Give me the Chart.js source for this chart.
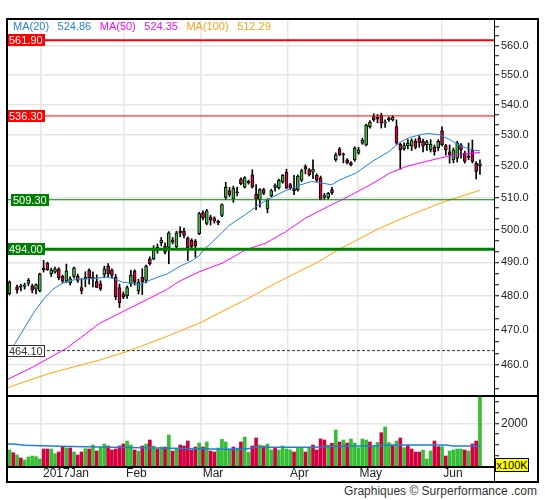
<!DOCTYPE html>
<html>
<head>
<meta charset="utf-8">
<title>Chart</title>
<script src="https://cdn.jsdelivr.net/npm/chart.js@4/dist/chart.umd.min.js"></script>
<style>
  html, body { margin: 0; padding: 0; background: #fff; }
  #wrap { position: relative; width: 545px; height: 500px; overflow: hidden;
          font-family: "Liberation Sans", Arial, sans-serif; }
  #wrap canvas { position: absolute; left: 0; }
  #cMain { top: 0; }
  #cVol  { top: 396px; }
  .ln { position: absolute; background: #000; }
  #legend { position: absolute; left: 13px; top: 20px; display: flex; gap: 8.5px;
            font-size: 11px; line-height: 13px; white-space: nowrap; }
  #unit { position: absolute; left: 495px; top: 458px; width: 34px; height: 14px; box-sizing: border-box;
          background: #ff0; border: 1px solid #000; font-size: 11px; line-height: 12px; text-align: center; }
  #credit { position: absolute; right: 8px; top: 484px; font-size: 12px; color: #333; }
</style>
</head>
<body>
<div id="wrap">
  <canvas id="cMain" width="545" height="396"></canvas>
  <canvas id="cVol" width="545" height="87"></canvas>
  <!-- frame -->
  <div class="ln" style="left:6px;top:18px;width:533px;height:2px"></div>
  <div class="ln" style="left:6px;top:18px;width:2px;height:465px"></div>
  <div class="ln" style="left:537px;top:18px;width:2px;height:465px"></div>
  <div class="ln" style="left:6px;top:481px;width:533px;height:2px"></div>
  <div class="ln" style="left:6px;top:395px;width:533px;height:2px"></div>
  <div class="ln" style="left:6px;top:466px;width:489px;height:1.5px"></div>
  <div class="ln" style="left:493.5px;top:18px;width:1.5px;height:465px"></div>
  <div id="legend"></div>
  <div id="unit">x100K</div>
  <div id="credit">Graphiques © Surperformance .com</div>
</div>
<script>
'use strict';

/* ── Data ───────────────────────────────────────────── */
const monthTicks  = [8.3, 30.2, 50.4, 73.4, 91.7, 113.8];
const monthLabels = ['2017Jan', 'Feb', 'Mar', 'Apr', 'May', 'Jun'];
const priceLabels = [460, 470, 480, 490, 500, 510, 520, 530, 540, 550, 560];
const volLabels   = [2000];

const open = [
  480.7, null, 482.7, 482.6, 482.8, 483.7, 483.0, 482.0, 481.5, 488.4,
  489.8, 486.6, 487.1, 488.1, 485.8, 484.4, 483.8, 485.8, 485.8, 482.5,
  485.1, 487.6, 485.1, 484.3, 483.6, 486.4, 488.8, 487.6, 485.5, 482.5,
  480.6, 480.1, 483.6, 487.4, 481.5, 485.5, 484.6, 491.1, 491.1, 493.6,
  496.0, 495.0, 494.6, 496.9, 494.8, 499.6, 499.6, 497.5, 496.8, 496.5,
  498.8, 505.3, 501.9, 504.0, 503.6, 502.6, 504.4, 510.0, 512.2, 509.5,
  511.8, 515.8, 513.3, 515.1, 517.2, 511.1, 509.3, 512.5, 506.4, 510.6,
  513.2, 513.0, 514.9, 518.0, 514.1, 512.8, 512.4, 515.5, 519.8, 518.8,
  518.0, 517.0, 516.2, 510.0, 510.0, 512.5, 522.0, 525.5, 523.9, 522.0,
  521.0, 522.0, 524.2, 527.4, 526.8, 532.8, 536.1, 535.8, 536.6, 534.0,
  535.6, 535.0, 532.8, 527.0, 525.6, 526.5, 526.5, 528.0, 529.1, 528.0,
  526.9, 525.2, 526.1, 525.8, 531.4, 526.6, 524.6, 522.0, 522.5, 526.8,
  524.1, 523.3, 525.0, 520.9, 520.0
];
const high = [
  484.5, null, 483.2, 483.5, 483.8, 485.2, 483.5, 483.6, 486.8, 490.6,
  490.1, 488.3, 488.6, 488.4, 486.2, 489.5, 485.7, 488.6, 486.5, 485.1,
  487.2, 488.1, 487.2, 486.3, 484.5, 488.9, 489.7, 488.1, 486.4, 483.5,
  481.2, 483.0, 487.6, 487.8, 485.0, 488.1, 489.2, 491.7, 495.1, 495.6,
  497.6, 496.0, 499.4, 497.6, 499.5, 500.9, 500.5, 497.8, 497.2, 497.0,
  505.4, 505.8, 506.3, 504.5, 504.0, 503.0, 508.0, 514.8, 513.2, 513.6,
  513.3, 516.2, 516.6, 515.5, 518.8, 514.1, 512.8, 512.9, 509.6, 512.6,
  514.3, 515.8, 517.3, 519.0, 514.5, 517.0, 517.2, 519.0, 520.4, 519.2,
  522.0, 517.5, 516.8, 511.3, 511.6, 513.2, 524.2, 526.0, 524.2, 522.4,
  521.4, 526.2, 526.0, 529.0, 533.6, 534.8, 537.0, 536.8, 537.2, 535.0,
  536.0, 536.4, 535.0, 527.4, 527.5, 528.5, 528.8, 528.8, 529.8, 528.7,
  528.3, 528.5, 526.8, 528.5, 532.7, 527.0, 526.8, 525.8, 528.0, 527.2,
  524.8, 527.4, 528.4, 521.4, 522.0
];
const low = [
  480.3, null, 480.8, 481.5, 482.0, 483.0, 480.9, 480.6, 481.2, 487.1,
  487.6, 485.8, 486.8, 484.8, 483.9, 484.0, 483.2, 485.3, 484.0, 480.6,
  482.7, 483.5, 482.7, 482.5, 481.6, 485.4, 485.7, 485.4, 478.9, 476.6,
  479.2, 479.3, 482.8, 483.2, 480.6, 480.4, 483.9, 489.2, 490.8, 492.8,
  495.0, 492.6, 489.6, 495.6, 494.3, 497.8, 497.5, 490.6, 494.3, 491.6,
  498.5, 503.0, 501.5, 501.4, 502.0, 501.5, 504.0, 509.3, 510.3, 508.5,
  510.5, 514.0, 513.0, 514.2, 513.0, 506.2, 507.0, 510.9, 505.2, 510.3,
  512.0, 512.6, 514.5, 512.8, 512.5, 510.9, 512.0, 515.0, 517.5, 516.8,
  516.0, 515.0, 509.3, 509.4, 509.5, 511.0, 521.5, 523.3, 521.0, 520.7,
  520.0, 521.5, 523.8, 527.0, 526.5, 532.3, 534.5, 534.0, 532.3, 532.5,
  534.5, 534.6, 527.0, 519.0, 525.0, 525.5, 525.0, 525.5, 526.0, 524.5,
  525.0, 524.5, 523.5, 524.9, 526.5, 523.5, 520.9, 521.0, 521.3, 522.5,
  520.9, 522.0, 521.0, 515.9, 517.3
];
const close = [
  484.1, null, 481.8, 483.0, 483.3, 484.6, 481.7, 483.4, 486.6, 487.8,
  487.8, 487.8, 488.1, 485.4, 484.4, 487.4, 485.1, 488.4, 484.6, 481.5,
  485.5, 485.4, 485.5, 482.5, 482.1, 488.1, 486.6, 486.1, 479.7, 478.0,
  479.7, 482.5, 486.1, 484.1, 484.1, 484.2, 488.8, 489.6, 494.4, 494.6,
  496.8, 493.1, 499.0, 496.2, 499.0, 499.0, 498.2, 494.5, 494.8, 495.1,
  505.0, 503.6, 505.8, 502.9, 502.6, 502.1, 507.8, 513.2, 510.9, 513.0,
  511.5, 514.4, 516.3, 514.6, 513.3, 509.5, 512.5, 511.3, 509.3, 512.2,
  513.8, 515.4, 517.0, 513.0, 513.0, 512.2, 516.8, 518.5, 519.0, 517.2,
  519.0, 515.5, 509.3, 510.6, 511.3, 511.5, 523.6, 523.6, 523.6, 521.0,
  520.4, 525.8, 525.2, 528.4, 533.3, 534.3, 535.0, 535.2, 533.9, 534.3,
  535.0, 535.8, 527.4, 525.2, 526.6, 527.4, 528.2, 526.0, 527.5, 526.4,
  527.8, 527.0, 524.6, 528.0, 526.8, 525.2, 523.6, 525.2, 527.4, 525.2,
  521.5, 522.8, 521.5, 518.3, 520.7
];

// volume, x100K
const volume = [
  778, 655, 549, 412, 320, 458, 503, 473, 366, 824,
  824, 824, 610, 687, 931, 870, 870, 687, 549, 687,
  839, 824, 1007, 732, 900, 1053, 961, 778, 824, 961,
  1053, 1190, 1007, 778, 732, 961, 1053, 1236, 961, 824,
  915, 915, 1465, 732, 824, 1007, 961, 1190, 778, 915,
  1099, 915, 1145, 732, 687, 870, 1266, 1145, 824, 915,
  870, 1145, 1373, 671, 961, 1327, 1007, 961, 1053, 778,
  885, 778, 961, 824, 778, 687, 885, 885, 687, 900,
  1007, 778, 1282, 1236, 1007, 1083, 1693, 1144, 1236, 1098,
  1282, 1098, 885, 1282, 1236, 1144, 976, 1129, 1571, 1831,
  1114, 1007, 1190, 1327, 885, 976, 824, 687, 687, 778,
  366, 732, 1190, 931, 931, 503, 732, 778, 824, 824,
  778, 732, 1053, 1190, 3400
];
const volUp = [
  1, 0, 1, 0, 1, 1, 1, 1, 1, 0,
  0, 1, 1, 0, 0, 1, 0, 1, 0, 0,
  1, 0, 1, 0, 1, 1, 0, 0, 0, 0,
  0, 1, 1, 0, 1, 0, 1, 0, 1, 0,
  1, 0, 1, 0, 1, 0, 0, 0, 0, 0,
  1, 0, 1, 0, 0, 1, 1, 1, 1, 0,
  1, 0, 1, 1, 0, 0, 1, 0, 1, 1,
  0, 1, 1, 1, 1, 0, 1, 1, 0, 1,
  0, 0, 0, 0, 1, 0, 1, 0, 1, 0,
  1, 1, 1, 1, 1, 0, 1, 1, 0, 1,
  1, 0, 1, 0, 1, 0, 0, 0, 0, 1,
  1, 1, 0, 0, 1, 0, 1, 1, 1, 1,
  0, 1, 0, 0, 1
];
const volAvgAt = [-0.7, 1, 4, 13, 27, 43, 57, 62, 65, 80, 83, 90, 97, 100, 115, 117, 124];
const volAvg   = [1053, 1053, 992, 946, 900, 854, 809, 809, 900, 900, 931, 961, 961, 1007, 1007, 961, 961];

// moving averages (x = session index)
const ma20At = [-0.7, 1.5, 6.3, 9, 11.5, 14, 17.7, 22, 25.5, 27.7, 29.8, 34.3, 36.9, 39.3, 41.5, 44.7,
                48.2, 50, 51.3, 53.4, 57.8, 62.2, 65.8, 68.7, 73, 76.2, 79.7, 82.3, 84.9, 87.1, 91.4,
                95.8, 100.2, 102.8, 105.4, 108.9, 110.6, 113.3, 115.9, 119.4, 122, 124];
const ma20   = [463.8, 466.2, 474.9, 479.1, 482.0, 483.8, 485.0, 485.1, 485.6, 485.1, 484.1, 483.4, 484.6, 485.7, 486.5, 488.7,
                490.6, 492.0, 494.0, 496.1, 501.2, 504.7, 507.8, 509.8, 512.3, 513.8, 515.1, 514.6, 514.0, 515.6, 517.8,
                521.6, 524.8, 527.6, 529.2, 530.3, 530.5, 530.1, 528.6, 526.2, 525.2, 524.86];
const ma50At = [-0.7, 0.2, 6.3, 15.1, 23.8, 29.9, 36.9, 41.3, 44.7, 50, 56.1, 62.2, 67.4, 72.7, 77.9, 84,
                90.1, 95.8, 100.2, 104.5, 108.9, 113.3, 117.6, 124];
const ma50   = [455.8, 456.3, 459.5, 464.8, 472.0, 475.4, 479.3, 481.8, 484.3, 487.2, 489.8, 493.8, 495.8, 499.3, 503.5, 507.2,
                510.8, 514.5, 517.7, 519.8, 521.2, 522.5, 523.6, 524.35];
const ma100At = [-0.7, 0.2, 10.7, 23.8, 30.8, 41.3, 50, 63.1, 70.9, 81.4, 86.6, 97.1, 105.8, 114.6, 124];
const ma100   = [453.5, 453.9, 457.7, 461.4, 463.8, 468.1, 472.0, 479.4, 484.2, 490.2, 493.8, 500.2, 504.6, 508.7, 512.29];

const maNames  = ['MA(20)', 'MA(50)', 'MA(100)'];
const maLast   = ['524.86', '524.35', '512.29'];

const levels = [561.90, 536.30, 509.30, 494.00, 464.10];

/* ── Styles ─────────────────────────────────────────── */
const FONT   = '"Liberation Sans", Arial, sans-serif';
const GREEN  = '#36be36';
const RED    = '#d3003f';
const GRID   = '#e6e6e6';
const NONE   = 'rgba(0,0,0,0)';
const maColors   = ['#1e80dc', '#ff00ff', '#ffa500'];
const maText     = ['#2a7fd8', '#ee11ee', '#f7a21c'];
const levelStyle = [
  { line: '#ff0000', width: 2,   box: '#ff0000', text: '#fff', shift: 0 },
  { line: '#ff0000', width: 1,   box: '#ff0000', text: '#fff', shift: 0 },
  { line: '#008000', width: 1.2, box: '#008000', text: '#fff', shift: 4 },
  { line: '#008000', width: 3,   box: '#008000', text: '#fff', shift: 0 },
  { line: '#333333', width: 1,   box: '#ffffff', text: '#333', shift: 0, edge: '#333', dash: [3, 2] }
];

const X_MIN = -0.65, X_MAX = 127.7;
const P_MIN = 451.3, P_MAX = 569.3;
const V_MAX = 3250;

Chart.defaults.font.family = FONT;

/* ── Legend ─────────────────────────────────────────── */
document.getElementById('legend').innerHTML = maNames.map((n, k) =>
  `<span style="color:${maText[k]}">${n}</span><span style="color:${maText[k]}">${maLast[k]}</span>`).join('');

/* ── Series building ────────────────────────────────── */
const bodies = [], wicks = [], bodyColors = [];
open.forEach((o, i) => {
  if (o == null) return;
  bodies.push({ x: i, y: [o, close[i]] });
  wicks.push({ x: i, y: [low[i], high[i]] });
  bodyColors.push(close[i] >= o ? GREEN : RED);
});
const volBars = volume.map((v, i) => ({ x: i, y: v }));
const volColors = volUp.map(u => (u ? GREEN : RED));

const pts = (at, vals) => at.map((x, k) => ({ x, y: vals[k] }));
const lineDs = (label, data, color, width) => ({
  type: 'line', label, data, borderColor: color, borderWidth: width,
  pointRadius: 0, tension: 0, fill: false
});

// minor ticks every 10/3 between the labelled ones
const priceTicks = [];
[450, ...priceLabels].forEach(m => {
  [0, 10 / 3, 20 / 3].forEach(d => {
    const v = m + d;
    if (v >= P_MIN && v <= P_MAX) priceTicks.push(v);
  });
});
const volTicks = [0, 500, 1000, 1500, 2000, 2500, 3000];

// keep the value axes from reserving room for half a label at each end
const fitRight = s => { s.width = 44; s.paddingTop = 0; s.paddingBottom = 0; };

function monthAxis(showLabels) {
  return {
    type: 'linear', min: X_MIN, max: X_MAX, offset: false,
    afterBuildTicks: s => { s.ticks = monthTicks.map(v => ({ value: v })); },
    afterFit: s => { s.height = showLabels ? 16 : 0; s.paddingLeft = 0; s.paddingRight = 0; },
    grid: { color: GRID, lineWidth: 1.5, drawTicks: false, offset: false },
    border: { display: false },
    ticks: {
      display: showLabels, autoSkip: false, maxRotation: 0, minRotation: 0,
      align: 'start', labelOffset: 2, padding: -1, color: '#222', font: { size: 12 },
      callback: (v, k) => monthLabels[k]
    }
  };
}

// ── Level lines + tags ────────────────────────────────
const levelPlugin = {
  id: 'levels',
  afterDatasetsDraw(chart) {
    const { ctx, chartArea: a } = chart;
    const y = chart.scales.y;
    ctx.save();
    ctx.font = '11px ' + FONT;
    levels.forEach((v, k) => {
      const st = levelStyle[k];
      const py = y.getPixelForValue(v);
      ctx.beginPath();
      ctx.strokeStyle = st.line;
      ctx.lineWidth = st.width;
      ctx.setLineDash(st.dash || []);
      ctx.moveTo(a.left, py);
      ctx.lineTo(a.right, py);
      ctx.stroke();
      ctx.setLineDash([]);

      const label = v.toFixed(2);
      const w = Math.ceil(ctx.measureText(label).width) + 4, h = 12;
      const bx = a.left + st.shift, by = Math.round(py - h / 2);
      ctx.fillStyle = st.box;
      ctx.fillRect(bx, by, w, h);
      if (st.edge) {
        ctx.strokeStyle = st.edge;
        ctx.lineWidth = 1;
        ctx.strokeRect(bx + 0.5, by + 0.5, w - 1, h - 1);
      }
      ctx.fillStyle = st.text;
      ctx.textBaseline = 'middle';
      ctx.textAlign = 'left';
      ctx.fillText(label, bx + 2, by + h / 2 + 0.5);
    });
    ctx.restore();
  }
};

const baseOpts = {
  responsive: false, animation: false, devicePixelRatio: 1, events: [],
  plugins: { legend: { display: false }, tooltip: { enabled: false } }
};

// ── Price panel ───────────────────────────────────────
new Chart(document.getElementById('cMain'), {
  type: 'bar',
  data: {
    datasets: [
      lineDs('MA(20)', pts(ma20At, ma20), maColors[0], 1),
      lineDs('MA(50)', pts(ma50At, ma50), maColors[1], 1),
      lineDs('MA(100)', pts(ma100At, ma100), maColors[2], 1),
      { type: 'bar', data: bodies, backgroundColor: bodyColors, borderColor: '#000', borderWidth: 1,
        borderSkipped: false, barThickness: 3, grouped: false },
      { type: 'bar', data: wicks, backgroundColor: '#000', borderWidth: 0, barThickness: 1, grouped: false }
    ]
  },
  options: {
    ...baseOpts,
    layout: { padding: { left: 7, right: 7, top: 19, bottom: 0 } },
    scales: {
      x: monthAxis(false),
      y: {
        type: 'logarithmic', position: 'right', min: P_MIN, max: P_MAX,
        afterBuildTicks: s => { s.ticks = priceTicks.map(v => ({ value: v })); },
        afterFit: fitRight,
        grid: {
          color: c => (c.tick && priceLabels.includes(c.tick.value) ? GRID : NONE),
          lineWidth: 1.5, tickColor: '#000', tickLength: 5, tickWidth: 1
        },
        border: { display: false },
        ticks: {
          autoSkip: false, padding: 2, color: '#222', font: { size: 11 },
          callback: v => (priceLabels.includes(v) ? v.toFixed(1) : '')
        }
      }
    }
  },
  plugins: [levelPlugin]
});

// ── Volume panel ──────────────────────────────────────
new Chart(document.getElementById('cVol'), {
  type: 'bar',
  data: {
    datasets: [
      lineDs('Vol avg', pts(volAvgAt, volAvg), '#1e80dc', 1.5),
      { type: 'bar', data: volBars, backgroundColor: volColors, borderWidth: 0, barThickness: 3, grouped: false }
    ]
  },
  options: {
    ...baseOpts,
    layout: { padding: { left: 7, right: 7, top: 0, bottom: 0 } },
    scales: {
      x: monthAxis(true),
      y: {
        type: 'linear', position: 'right', min: 0, max: V_MAX,
        afterBuildTicks: s => { s.ticks = volTicks.map(v => ({ value: v })); },
        afterFit: fitRight,
        grid: {
          color: c => (c.tick && volLabels.includes(c.tick.value) ? GRID : NONE),
          lineWidth: 1.5, tickColor: '#000', tickLength: 5, tickWidth: 1
        },
        border: { display: false },
        ticks: {
          autoSkip: false, padding: 2, color: '#222', font: { size: 12 },
          callback: v => (volLabels.includes(v) ? String(v) : '')
        }
      }
    }
  }
});
</script>
</body>
</html>
